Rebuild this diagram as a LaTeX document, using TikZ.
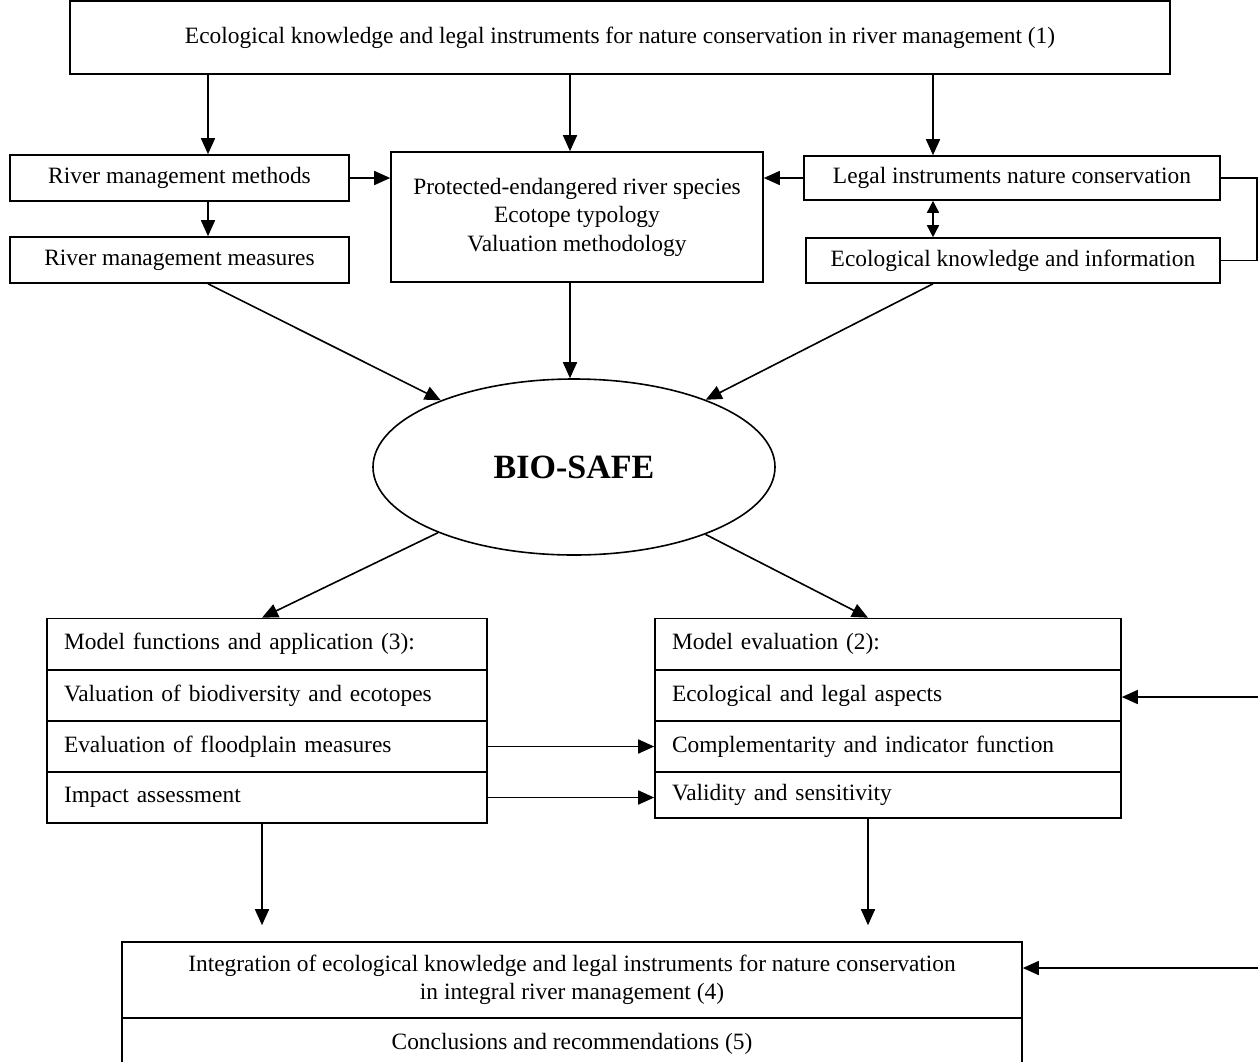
\documentclass[tikz,border=0pt]{standalone}
\usepackage{fontspec}
\setmainfont{Liberation Serif}
\usetikzlibrary{arrows.meta,shapes.geometric,calc}
\newcommand\boxfont{\fontsize{11.7}{14.25}\selectfont}
\begin{document}
\begin{tikzpicture}[x=0.5pt,y=-0.5pt,
  box/.style={draw, line width=0.8pt, inner sep=0pt, align=center, font=\boxfont},
  rowbox/.style={draw, line width=0.8pt, inner xsep=8.5pt, inner ysep=0pt,
    align=left, font=\boxfont, minimum height=25.5pt},
  arr/.style={-{Triangle[length=8pt,width=7pt]}, line width=0.8pt},
  link/.style={line width=0.8pt}]
\clip (0,0) rectangle (1258,1061);
\useasboundingbox (0,0) rectangle (1258,1061);
\fill[white] (0,0) rectangle (1258,1061);

% guide columns for the vertical connectors
\coordinate (c1) at (208,0);
\coordinate (c2) at (570,0);
\coordinate (c3) at (933,0);
\coordinate (c4) at (262,0);
\coordinate (c5) at (868,0);
\coordinate (rx) at (1257,0);
\coordinate (in1) at (1262,697);
\coordinate (in2) at (1262,968);

% upper part
\node[box, minimum width=550pt, minimum height=36.5pt] (top) at (620,37.5)
  {Ecological knowledge and legal instruments for nature conservation in river management (1)};
\node[box, minimum width=169.5pt, minimum height=23pt] (meth) at (179.5,178) {River management methods};
\node[box, minimum width=169.5pt, minimum height=23pt] (meas) at (179.5,260) {River management measures};
\node[box, minimum width=186pt, minimum height=65pt] (cent) at (577,217)
  {Protected-endangered river species\\Ecotope typology\\Valuation methodology};
\node[box, minimum width=208pt, minimum height=22pt] (legal) at (1012,178) {Legal instruments nature conservation};
\node[box, minimum width=207pt, minimum height=22.5pt] (eco) at (1013,260.5) {Ecological knowledge and information};

% model
\node[draw, ellipse, line width=0.8pt, inner sep=0pt, minimum width=201pt, minimum height=88pt,
  font=\fontsize{17}{20}\selectfont\bfseries] (bio) at (574,467) {BIO-SAFE};

% model functions
\node[rowbox, text width=203pt] (l1) at (267,644) {Model functions and application (3):};
\node[rowbox, text width=203pt] (l2) at (267,695.5) {Valuation of biodiversity and ecotopes};
\node[rowbox, text width=203pt] (l3) at (267,746.5) {Evaluation of floodplain measures};
\node[rowbox, text width=203pt] (l4) at (267,797.5) {Impact assessment};

% model evaluation
\node[rowbox, text width=216pt] (r1) at (888,644) {Model evaluation (2):};
\node[rowbox, text width=216pt] (r2) at (888,695.5) {Ecological and legal aspects};
\node[rowbox, text width=216pt] (r3) at (888,746.5) {Complementarity and indicator function};
\node[rowbox, text width=216pt, minimum height=23pt] (r4) at (888,795) {Validity and sensitivity};

% integration
\node[box, minimum width=450pt, minimum height=38pt] (b1) at (572,980)
  {Integration of ecological knowledge and legal instruments for nature conservation\\in integral river management (4)};
\node[box, minimum width=450pt, minimum height=26pt] (b2) at (572,1044) {Conclusions and recommendations (5)};

% connectors
\draw[arr] (top.south -| c1) -- (meth.north -| c1);
\draw[arr] (top.south -| c2) -- (cent.north -| c2);
\draw[arr] (top.south -| c3) -- (legal.north -| c3);
\draw[arr] (meth.south -| c1) -- (meas.north -| c1);
\draw[arr] (meth.east) -- (meth.east -| cent.west);
\draw[arr] (legal.west) -- (legal.west -| cent.east);
\draw[{Triangle[length=6pt,width=6pt]}-{Triangle[length=6pt,width=6pt]}, line width=0.8pt]
  (legal.south -| c3) -- (eco.north -| c3);
\draw[link] (legal.east) -- (legal.east -| rx) -- (eco.east -| rx) -- (eco.east);

\draw[arr] (meas.south -| c1) -- (bio);
\draw[arr] (cent.south -| c2) -- (bio.north -| c2);
\draw[arr] (eco.south -| c3) -- (bio);

\draw[arr] (bio) -- (l1.north -| c4);
\draw[arr] (bio) -- (r1.north -| c5);

\draw[arr] (l3.east) -- (l3.east -| r3.west);
\draw[arr] (l4.east) -- (l4.east -| r4.west);
\draw[arr] (in1) -- (in1 -| r2.east);

\draw[arr, shorten >=8pt] (l4.south -| c4) -- (b1.north -| c4);
\draw[arr, shorten >=8pt] (r4.south -| c5) -- (b1.north -| c5);
\draw[arr] (in2) -- (in2 -| b1.east);
\end{tikzpicture}
\end{document}
